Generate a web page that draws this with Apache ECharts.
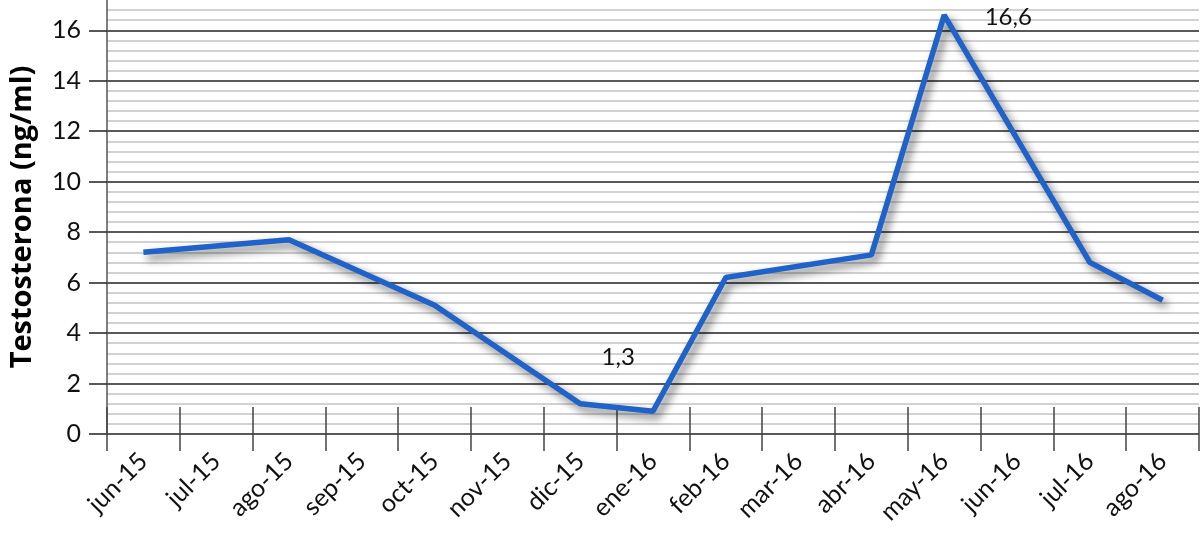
<!DOCTYPE html>
<html>
<head>
<meta charset="utf-8">
<script src="https://cdn.jsdelivr.net/npm/echarts@6/dist/echarts.min.js"></script>
<style>
html,body{margin:0;padding:0;background:#fff;}
#chart{width:1200px;height:534px;}
</style>
</head>
<body>
<div id="chart"></div>
<script>
const months = ['jun-15','jul-15','ago-15','sep-15','oct-15','nov-15','dic-15','ene-16','feb-16','mar-16','abr-16','may-16','jun-16','jul-16','ago-16'];
const testosterone = [7.2, null, 7.7, null, 5.1, null, 1.2, 0.9, 6.2, null, 7.1, 16.6, null, 6.8, 5.3];
const annotations = {'dic-15': '1,3', 'may-16': '16,6'};
const yAxisName = 'Testosterona (ng/ml)';

const seriesData = testosterone.map((v, i) => {
  const m = months[i];
  if (m === 'dic-15') {
    return {value: v, label: {show: true, formatter: annotations[m], position: 'top', distance: 34, offset: [38, 0]}};
  }
  if (m === 'may-16') {
    return {value: v, label: {show: true, formatter: annotations[m], position: 'right', distance: 40, offset: [0, 2]}};
  }
  return v;
});

const chart = echarts.init(document.getElementById('chart'));
chart.setOption({
  animation: false,
  backgroundColor: '#fff',
  grid: {left: 106, right: 1, top: 0, bottom: 100, containLabel: false},
  xAxis: [{
    type: 'category',
    data: months,
    boundaryGap: true,
    offset: -27,
    axisLine: {show: false},
    axisTick: {show: true, length: 44, interval: 0, lineStyle: {color: '#444', width: 1.5}},
    axisLabel: {interval: 0, rotate: 45, fontSize: 25, color: '#111', fontFamily: 'Lato', margin: 50},
    splitLine: {show: false}
  }],
  yAxis: {
    type: 'value',
    min: 0, max: 17.2, interval: 2,
    name: yAxisName,
    nameLocation: 'middle',
    nameGap: 70,
    nameRotate: 90,
    nameTextStyle: {fontSize: 29, fontWeight: 'bold', color: '#000', fontFamily: 'Open Sans'},
    axisLine: {show: true, lineStyle: {color: '#555', width: 1.5}},
    axisTick: {show: true, length: 18, lineStyle: {color: '#222', width: 1.5}},
    axisLabel: {fontSize: 25, color: '#111', fontFamily: 'Lato', margin: 26, showMaxLabel: false},
    splitLine: {show: true, showMaxLine: false, lineStyle: {color: '#222', width: 1.5}},
    minorTick: {show: false, splitNumber: 5},
    minorSplitLine: {show: true, lineStyle: {color: '#c4c4c4', width: 1.5}}
  },
  series: [{
    type: 'line',
    data: seriesData,
    connectNulls: true,
    symbol: 'circle',
    symbolSize: 1,
    showSymbol: true,
    itemStyle: {color: 'rgba(0,0,0,0)'},
    lineStyle: {color: '#1f62c9', width: 5.5, shadowColor: 'rgba(0,0,0,0.55)', shadowBlur: 9, shadowOffsetX: 4, shadowOffsetY: 5},
    label: {fontSize: 24, color: '#111', fontFamily: 'Lato'},
    z: 5
  }]
});
</script>
</body>
</html>
